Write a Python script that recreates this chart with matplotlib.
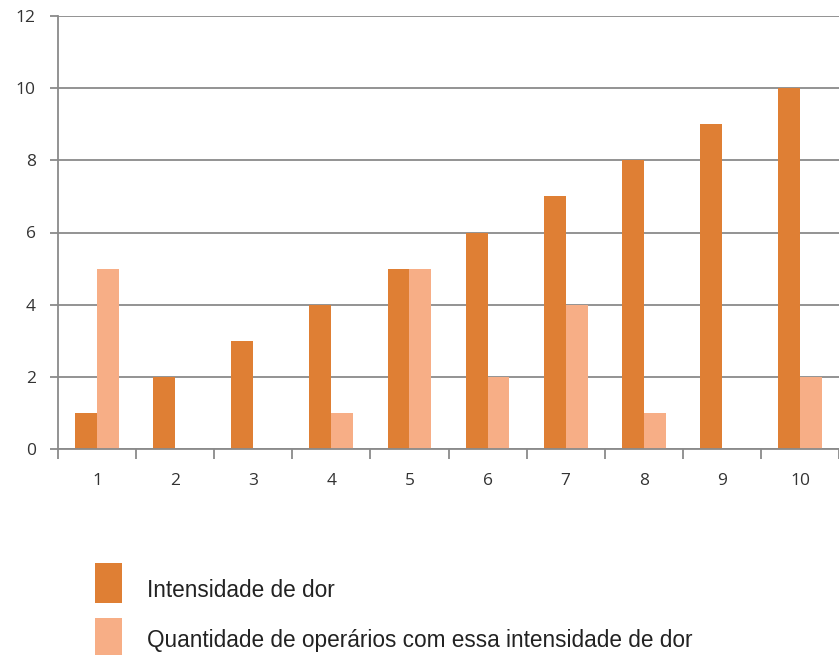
import matplotlib
matplotlib.use("Agg")
import matplotlib.pyplot as plt
from matplotlib.patches import Rectangle
import numpy as np

categories = [1, 2, 3, 4, 5, 6, 7, 8, 9, 10]
intensidade = [1, 2, 3, 4, 5, 6, 7, 8, 9, 10]
quantidade = [5, 0, 0, 1, 5, 2, 4, 1, 0, 2]
series_names = ["Intensidade de dor",
                "Quantidade de operários com essa intensidade de dor"]
y_ticks = [0, 2, 4, 6, 8, 10, 12]

dark = "#DF7F34"
light = "#F7AE86"
axis_gray = "#8a8a8a"
W, H = 839, 655

fig = plt.figure(figsize=(W / 100, H / 100), dpi=100)
ax = fig.add_axes([58 / W, 206 / H, 1 - 58 / W, 433 / H])

x = np.arange(1, len(categories) + 1)
w = 0.28
ax.bar(x - w / 2, intensidade, width=w, color=dark, label=series_names[0])
ax.bar(x + w / 2, quantidade, width=w, color=light, label=series_names[1])

ax.set_xlim(0.5, 10.42)
ax.set_ylim(0, 12)
ax.set_yticks(y_ticks)
ax.set_yticklabels([str(v) for v in y_ticks])
ax.set_xticks(x)
ax.set_xticklabels([str(c) for c in categories])
ax.set_xticks(np.arange(0.5, 10.6, 1.0), minor=True)

ax.yaxis.grid(True, color=axis_gray, linewidth=1.3)
ax.set_axisbelow(True)
for s in ["top", "right"]:
    ax.spines[s].set_visible(False)
for s in ["left", "bottom"]:
    ax.spines[s].set_color(axis_gray)
    ax.spines[s].set_linewidth(1.3)

ax.tick_params(axis="x", which="major", length=0, pad=17, labelsize=12.5, labelcolor="#333333")
ax.tick_params(axis="x", which="minor", length=7, color=axis_gray, width=1.3)
ax.tick_params(axis="y", length=6, color=axis_gray, width=1.3, pad=10,
               labelsize=12.5, labelcolor="#333333")
for lab in ax.get_xticklabels() + ax.get_yticklabels():
    lab.set_fontfamily(["Open Sans", "DejaVu Sans"])

# legend drawn below the plot: colour swatch + series name per row
legend_rows = [(563, 597, dark), (618, 647, light)]
for (top, baseline, col), name in zip(legend_rows, series_names):
    fig.patches.append(Rectangle((95 / W, 1 - (top + 40) / H), 27 / W, 40 / H,
                                 transform=fig.transFigure, facecolor=col,
                                 edgecolor="none"))
    fig.text(147 / W, 1 - baseline / H, name, ha="left", va="baseline",
             fontsize=16.3, color="#222222",
             family=["Liberation Sans Narrow", "Liberation Sans", "DejaVu Sans"])

fig.savefig("out.png", dpi=100, facecolor="white")
